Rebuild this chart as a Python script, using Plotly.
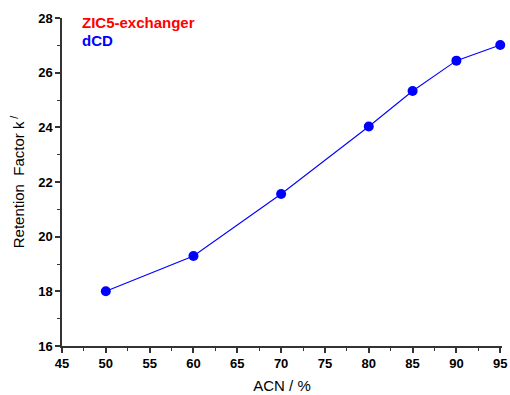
import plotly.graph_objects as go

acn = [50, 60, 70, 80, 85, 90, 95]
k_factor = [18.0, 19.29, 21.56, 24.03, 25.33, 26.44, 27.01]
x_ticks = [45, 50, 55, 60, 65, 70, 75, 80, 85, 90, 95]
y_ticks = [16, 18, 20, 22, 24, 26, 28]

fig = go.Figure()
fig.add_trace(go.Scatter(
    x=acn, y=k_factor, mode="lines+markers",
    line=dict(color="#0000ff", width=1.1),
    marker=dict(color="#0000ff", size=10),
    showlegend=False, cliponaxis=False,
))

fig.update_layout(
    width=510, height=395,
    margin=dict(l=62, r=8, t=18, b=49),
    paper_bgcolor="white", plot_bgcolor="white",
    font=dict(family="Liberation Sans", color="black"),
    xaxis=dict(
        range=[45, 95.2], tickvals=x_ticks, ticks="outside", ticklen=5, tickwidth=1.5,
        showline=True, linewidth=1.5, linecolor="#333", showgrid=False, zeroline=False,
        automargin=False,
        tickfont=dict(family="Liberation Sans", size=13, color="black", weight="bold"),
        minor=dict(dtick=2.5, ticks="outside", ticklen=3, tickwidth=1, tickcolor="#333"),
        tickcolor="#333",
        title=dict(text="ACN / %", font=dict(family="Liberation Sans", size=15), standoff=10),
    ),
    yaxis=dict(
        range=[16, 28], tickvals=y_ticks, ticks="outside", ticklen=5, tickwidth=1.5,
        showline=True, linewidth=1.5, linecolor="#333", showgrid=False, zeroline=False,
        automargin=False,
        tickfont=dict(family="Liberation Sans", size=13, color="black", weight="bold"),
        minor=dict(dtick=1, ticks="outside", ticklen=3, tickwidth=1, tickcolor="#333"),
        tickcolor="#333",
        title=dict(text="Retention  Factor k<sup> /</sup>", font=dict(family="Liberation Sans", size=15), standoff=10),
    ),
    annotations=[
        dict(text="<b>ZIC5-exchanger</b>", x=0.04, y=0.985, xref="paper", yref="paper",
             xanchor="left", yanchor="middle", showarrow=False,
             font=dict(family="Liberation Sans", size=15, color="#ff0000")),
        dict(text="<b>dCD</b>", x=0.04, y=0.93, xref="paper", yref="paper",
             xanchor="left", yanchor="middle", showarrow=False,
             font=dict(family="Liberation Sans", size=15, color="#0000ff")),
    ],
)
fig.write_html("out.html")
